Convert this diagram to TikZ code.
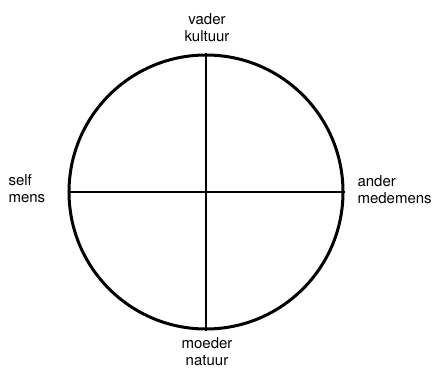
\documentclass[tikz,border=0pt]{standalone}
\usepackage{fontspec}
\setmainfont{TeX Gyre Heros}
\usepackage{tikz}

\tikzset{
  pole/.style={align=center,font=\fontsize{15}{17}\selectfont},
  side/.style={align=left,anchor=west,font=\fontsize{15}{17}\selectfont}
}

\begin{document}
\begin{tikzpicture}[x=1pt,y=-1pt]
  \useasboundingbox (0,0) rectangle (439,369);

  \node[draw,circle,line width=3pt,inner sep=0pt,minimum size=274pt] (wheel) at (206,192) {};
  \draw[line width=2.2pt] (wheel.north) -- (wheel.south);
  \draw[line width=2.2pt] (wheel.west) -- (wheel.east);

  \node[pole] (vader) at (207,28) {vader\\kultuur};
  \node[pole] (moeder) at (207,352) {moeder\\natuur};
  \node[side] (self) at (5,189) {self\\mens};
  \node[side] (ander) at (354,190) {ander\\medemens};
\end{tikzpicture}
\end{document}
